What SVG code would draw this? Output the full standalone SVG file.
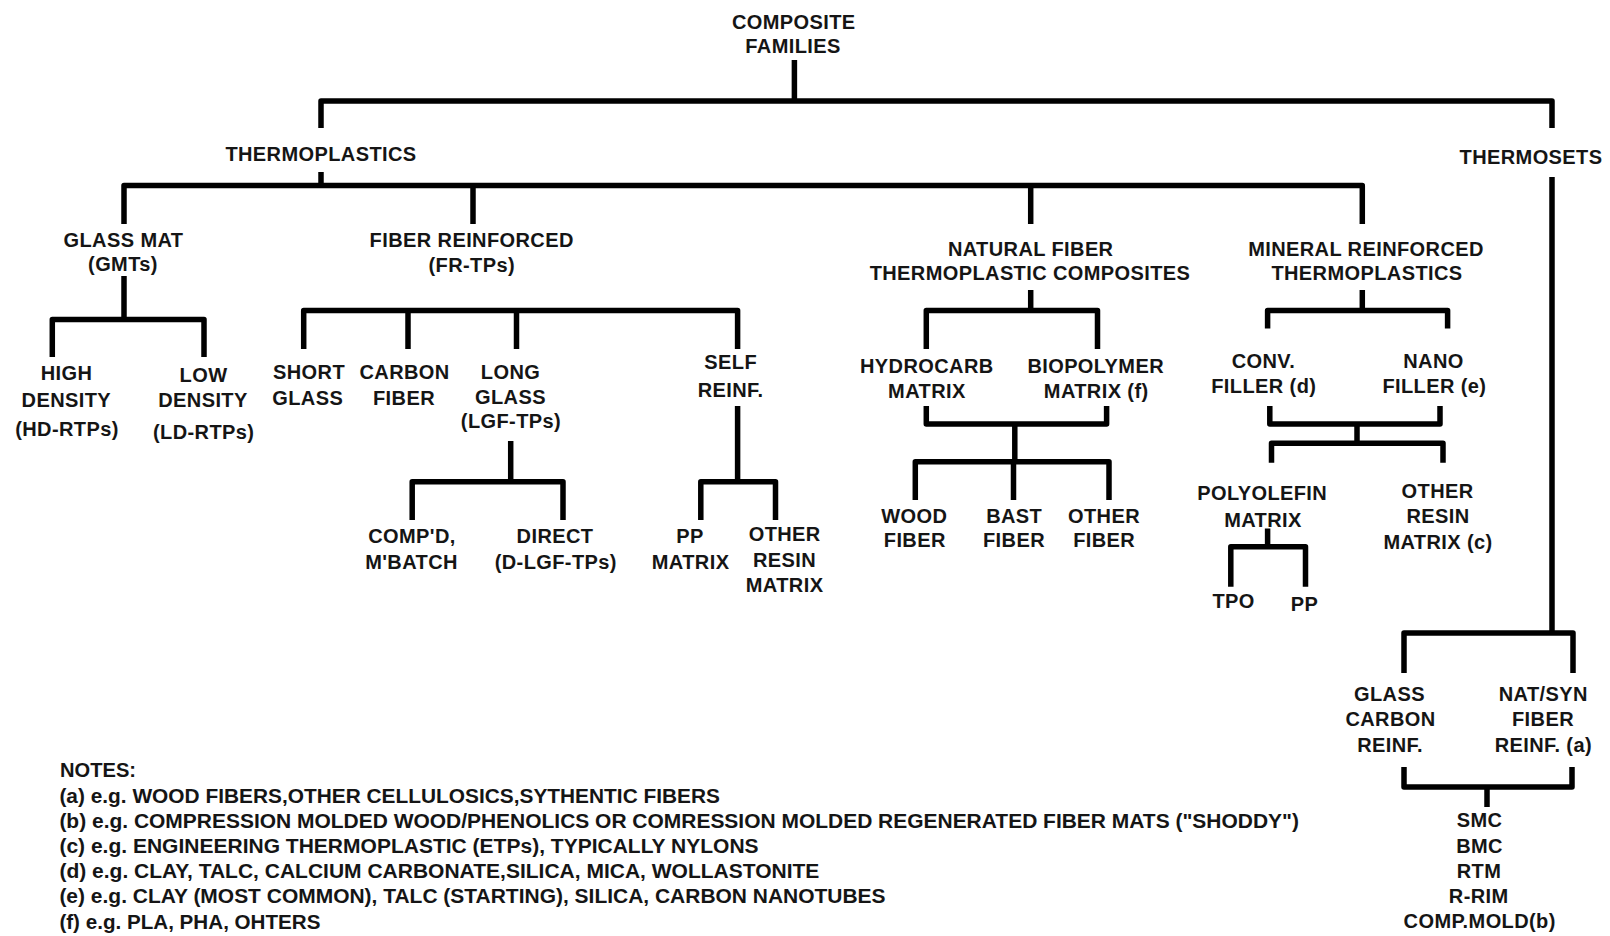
<svg xmlns="http://www.w3.org/2000/svg" width="1610" height="936" viewBox="0 0 1610 936">
<style>
.n{font-family:"Liberation Sans",Arial,sans-serif;font-weight:bold;font-size:20px;letter-spacing:0.4px;fill:#151515;text-anchor:middle}
.nt{font-family:"Liberation Sans",Arial,sans-serif;font-weight:bold;font-size:19.5px;fill:#151515}
.c{fill:none;stroke:#000;stroke-width:5.5;stroke-linejoin:round;stroke-linecap:butt}
</style>
<rect width="1610" height="936" fill="#fff"/>
<g id="connectors">
<path class="c" d="M794.4,60 V101"/>
<path class="c" d="M321,128 V101 H1552 V128"/>
<path class="c" d="M321,172 V185.5"/>
<path class="c" d="M124,224 V185.5 H1362.3 V224"/>
<path class="c" d="M473,185.5 V224"/>
<path class="c" d="M1030.7,185.5 V224"/>
<path class="c" d="M1552,177 V633"/>
<path class="c" d="M1404,673 V633 H1573 V673"/>
<path class="c" d="M1404,767 V787 H1572 V767"/>
<path class="c" d="M1487,787 V807"/>
<path class="c" d="M124,276 V319.5"/>
<path class="c" d="M52.3,357 V319.5 H204 V357"/>
<path class="c" d="M303.7,349 V310.5 H737.6 V349"/>
<path class="c" d="M408,310.5 V349"/>
<path class="c" d="M516.5,310.5 V349"/>
<path class="c" d="M510.7,441 V481.7"/>
<path class="c" d="M412.2,520 V481.7 H563 V520"/>
<path class="c" d="M737.6,406 V481.7"/>
<path class="c" d="M700.8,520 V481.7 H775.5 V520"/>
<path class="c" d="M1030.7,290 V310.5"/>
<path class="c" d="M926.3,349 V310.5 H1097.5 V349"/>
<path class="c" d="M926.3,406 V424 H1106.6 V406"/>
<path class="c" d="M1014.8,424 V461.7"/>
<path class="c" d="M915.3,500 V461.7 H1109 V500"/>
<path class="c" d="M1013.5,461.7 V500"/>
<path class="c" d="M1362.3,290 V310.5"/>
<path class="c" d="M1267.6,328.5 V310.5 H1447.6 V328.5"/>
<path class="c" d="M1269.8,406 V424 H1440 V406"/>
<path class="c" d="M1357,424 V443.3"/>
<path class="c" d="M1271.5,462.7 V443.3 H1443 V462.7"/>
<path class="c" d="M1267.6,528.5 V546.7"/>
<path class="c" d="M1230.8,586.7 V546.7 H1305.5 V586.7"/>
</g>
<g id="composite-families"><text class="n" x="793.7" y="29.3">COMPOSITE</text><text class="n" x="793" y="52.7">FAMILIES</text></g>
<g id="thermoplastics"><text class="n" x="321" y="161">THERMOPLASTICS</text></g>
<g id="thermosets"><text class="n" x="1531" y="164">THERMOSETS</text></g>
<g id="glass-mat"><text class="n" x="123.5" y="247">GLASS MAT</text><text class="n" x="123" y="271">(GMTs)</text></g>
<g id="fiber-reinforced"><text class="n" x="471.7" y="247">FIBER REINFORCED</text><text class="n" x="471.8" y="272">(FR-TPs)</text></g>
<g id="natural-fiber"><text class="n" x="1030.7" y="256">NATURAL FIBER</text><text class="n" x="1030" y="280">THERMOPLASTIC COMPOSITES</text></g>
<g id="mineral-reinforced"><text class="n" x="1366" y="256">MINERAL REINFORCED</text><text class="n" x="1367" y="280">THERMOPLASTICS</text></g>
<g id="high-density"><text class="n" x="66.6" y="380">HIGH</text><text class="n" x="66.3" y="407">DENSITY</text><text class="n" x="67" y="436">(HD-RTPs)</text></g>
<g id="low-density"><text class="n" x="203.5" y="382">LOW</text><text class="n" x="203" y="407">DENSITY</text><text class="n" x="203.7" y="439">(LD-RTPs)</text></g>
<g id="short-glass"><text class="n" x="309" y="379">SHORT</text><text class="n" x="307.7" y="405">GLASS</text></g>
<g id="carbon-fiber"><text class="n" x="404.6" y="379">CARBON</text><text class="n" x="404" y="405">FIBER</text></g>
<g id="long-glass"><text class="n" x="510.5" y="379">LONG</text><text class="n" x="510.5" y="404">GLASS</text><text class="n" x="511" y="428">(LGF-TPs)</text></g>
<g id="self-reinf"><text class="n" x="730.7" y="369">SELF</text><text class="n" x="730.6" y="396.7">REINF.</text></g>
<g id="hydrocarb-matrix"><text class="n" x="926.8" y="373">HYDROCARB</text><text class="n" x="926.9" y="398">MATRIX</text></g>
<g id="biopolymer-matrix"><text class="n" x="1095.7" y="373">BIOPOLYMER</text><text class="n" x="1096.2" y="398">MATRIX (f)</text></g>
<g id="conv-filler"><text class="n" x="1263.4" y="367.7">CONV.</text><text class="n" x="1263.8" y="393">FILLER (d)</text></g>
<g id="nano-filler"><text class="n" x="1433.5" y="367.7">NANO</text><text class="n" x="1434.4" y="393">FILLER (e)</text></g>
<g id="compd-mbatch"><text class="n" x="412" y="542.7">COMP'D,</text><text class="n" x="411.5" y="569">M'BATCH</text></g>
<g id="direct"><text class="n" x="555" y="542.7">DIRECT</text><text class="n" x="555.8" y="569">(D-LGF-TPs)</text></g>
<g id="pp-matrix"><text class="n" x="690" y="542.7">PP</text><text class="n" x="690.6" y="569">MATRIX</text></g>
<g id="other-resin-matrix-self"><text class="n" x="784.7" y="540.7">OTHER</text><text class="n" x="784.5" y="567">RESIN</text><text class="n" x="784.6" y="592">MATRIX</text></g>
<g id="wood-fiber"><text class="n" x="914.3" y="522.7">WOOD</text><text class="n" x="914.8" y="547.3">FIBER</text></g>
<g id="bast-fiber"><text class="n" x="1014.2" y="522.7">BAST</text><text class="n" x="1014" y="547.3">FIBER</text></g>
<g id="other-fiber"><text class="n" x="1104" y="522.7">OTHER</text><text class="n" x="1104.2" y="547.3">FIBER</text></g>
<g id="polyolefin-matrix"><text class="n" x="1262.2" y="500">POLYOLEFIN</text><text class="n" x="1263" y="526.7">MATRIX</text></g>
<g id="other-resin-matrix-c"><text class="n" x="1437.6" y="498.3">OTHER</text><text class="n" x="1438" y="522.7">RESIN</text><text class="n" x="1438" y="549">MATRIX (c)</text></g>
<g id="tpo"><text class="n" x="1233.6" y="608.3">TPO</text></g>
<g id="pp"><text class="n" x="1304.5" y="610.7">PP</text></g>
<g id="glass-carbon-reinf"><text class="n" x="1389.5" y="701">GLASS</text><text class="n" x="1390.5" y="726">CARBON</text><text class="n" x="1390" y="751.7">REINF.</text></g>
<g id="natsyn-fiber-reinf"><text class="n" x="1543.3" y="701">NAT/SYN</text><text class="n" x="1543" y="726">FIBER</text><text class="n" x="1543.3" y="751.7">REINF. (a)</text></g>
<g id="processes"><text class="n" x="1479.5" y="827.3">SMC</text><text class="n" x="1479.5" y="853.3">BMC</text><text class="n" x="1479" y="878.3">RTM</text><text class="n" x="1478.7" y="903.3">R-RIM</text><text class="n" x="1479.7" y="928.3">COMP.MOLD(b)</text></g>
<g id="notes">
<text class="nt" x="60" y="776.7" textLength="76" lengthAdjust="spacingAndGlyphs">NOTES:</text>
<text class="nt" x="59.4" y="803.3" textLength="660.6" lengthAdjust="spacingAndGlyphs">(a) e.g. WOOD FIBERS,OTHER CELLULOSICS,SYTHENTIC FIBERS</text>
<text class="nt" x="59.4" y="828.3" textLength="1239.6" lengthAdjust="spacingAndGlyphs">(b) e.g. COMPRESSION MOLDED WOOD/PHENOLICS OR COMRESSION MOLDED REGENERATED FIBER MATS ("SHODDY")</text>
<text class="nt" x="59.4" y="853.3" textLength="699.2" lengthAdjust="spacingAndGlyphs">(c) e.g. ENGINEERING THERMOPLASTIC (ETPs), TYPICALLY NYLONS</text>
<text class="nt" x="59.4" y="878.3" textLength="760" lengthAdjust="spacingAndGlyphs">(d) e.g. CLAY, TALC, CALCIUM CARBONATE,SILICA, MICA, WOLLASTONITE</text>
<text class="nt" x="59.4" y="903.3" textLength="826.2" lengthAdjust="spacingAndGlyphs">(e) e.g. CLAY (MOST COMMON), TALC (STARTING), SILICA, CARBON NANOTUBES</text>
<text class="nt" x="59.4" y="929.3" textLength="261.1" lengthAdjust="spacingAndGlyphs">(f) e.g. PLA, PHA, OHTERS</text>
</g>
</svg>
